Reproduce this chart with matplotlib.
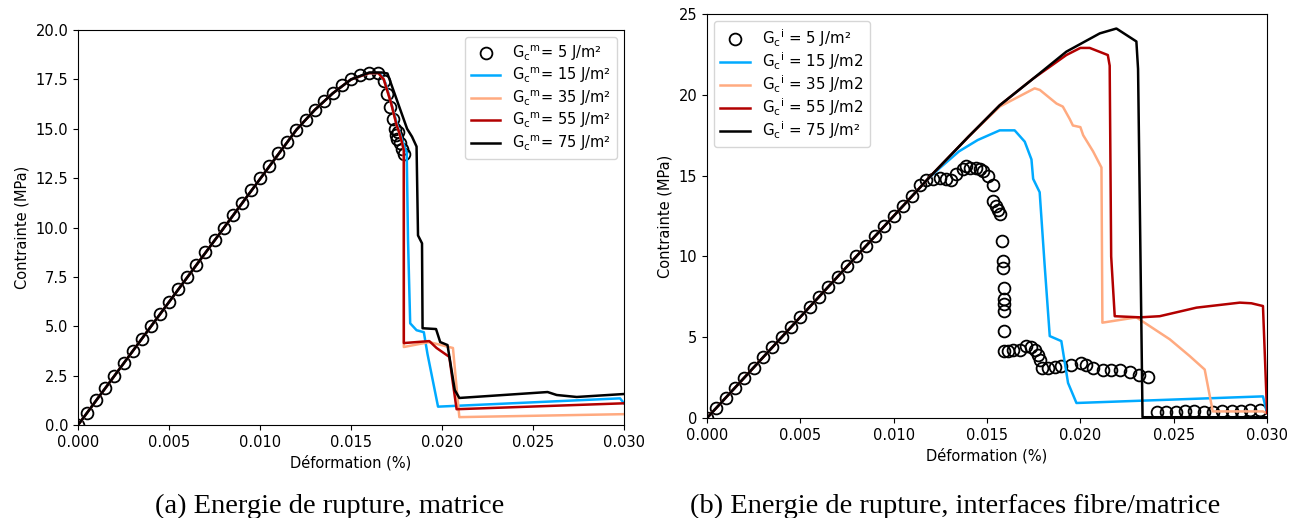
import numpy as np
import matplotlib
matplotlib.use('Agg')
import matplotlib.pyplot as plt

# ---------------- (a) matrice ----------------
a_circ_x = [0.0000, 0.0005, 0.0010, 0.0015, 0.0020, 0.0025, 0.0030, 0.0035, 0.0040, 0.0045,
            0.0050, 0.0055, 0.0060, 0.0065, 0.0070, 0.0075, 0.0080, 0.0085, 0.0090, 0.0095,
            0.0100, 0.0105, 0.0110, 0.0115, 0.0120, 0.0125, 0.0130, 0.0135, 0.0140, 0.0145,
            0.0150, 0.0155, 0.0160, 0.0165, 0.0168, 0.0170, 0.01715, 0.0173, 0.0174, 0.01745,
            0.01755, 0.0176, 0.0177, 0.0178, 0.0179]
a_circ_y = [0.0, 0.62, 1.25, 1.88, 2.5, 3.12, 3.75, 4.38, 5.0, 5.62,
            6.25, 6.88, 7.5, 8.12, 8.75, 9.38, 10.0, 10.62, 11.25, 11.88,
            12.5, 13.12, 13.75, 14.35, 14.95, 15.45, 15.95, 16.4, 16.8, 17.2,
            17.5, 17.72, 17.82, 17.82, 17.4, 16.75, 16.1, 15.5, 15.0, 14.7,
            14.5, 14.85, 14.3, 14.0, 13.7]

a15_x = [0.0, 0.0120, 0.0130, 0.0140, 0.0150, 0.0160, 0.0166, 0.0169, 0.0173, 0.0176, 0.0179,
         0.01806, 0.01813, 0.01825, 0.0186, 0.0190, 0.0192, 0.01978, 0.02978, 0.0300]
a15_y = [0.0, 14.95, 15.95, 16.8, 17.5, 17.82, 17.82, 17.3, 16.0, 15.0, 14.2,
         13.8, 9.4, 5.15, 4.8, 4.7, 3.6, 0.93, 1.35, 1.1]
a35_x = [0.0, 0.0120, 0.0130, 0.0140, 0.0150, 0.0160, 0.0165, 0.0168, 0.0172, 0.0175, 0.01765,
         0.0178, 0.0179, 0.0179, 0.0193, 0.0206, 0.02095, 0.0300]
a35_y = [0.0, 14.95, 15.95, 16.8, 17.5, 17.82, 17.82, 17.5, 16.3, 15.2, 14.8,
         14.3, 13.9, 3.95, 4.2, 3.9, 0.4, 0.55]
a55_x = [0.0, 0.0120, 0.0130, 0.0140, 0.0150, 0.0160, 0.0165, 0.0168, 0.0172, 0.0175, 0.01765,
         0.0178, 0.0179, 0.0179, 0.0193, 0.0197, 0.0204, 0.0206, 0.0208, 0.0300]
a55_y = [0.0, 14.95, 15.95, 16.8, 17.5, 17.82, 17.82, 17.5, 16.3, 15.2, 14.8,
         14.3, 13.9, 4.15, 4.25, 3.9, 3.45, 2.1, 0.8, 1.1]
a75_x = [0.0, 0.0120, 0.0130, 0.0140, 0.0150, 0.0160, 0.0167, 0.0170, 0.01808, 0.01835, 0.0186,
         0.01868, 0.0189, 0.01893, 0.01967, 0.0199, 0.0203, 0.0207, 0.02095, 0.0258, 0.0263,
         0.0274, 0.0300]
a75_y = [0.0, 14.95, 15.95, 16.8, 17.5, 17.85, 17.85, 17.8, 15.0, 14.6, 14.1,
         9.6, 9.2, 4.9, 4.86, 4.2, 4.05, 1.77, 1.37, 1.67, 1.52,
         1.42, 1.57]

# ---------------- (b) interfaces ----------------
b_circ_x = [0.0000, 0.0005, 0.0010, 0.0015, 0.0020, 0.0025, 0.0030, 0.0035, 0.0040, 0.0045,
            0.0050, 0.0055, 0.0060, 0.0065, 0.0070, 0.0075, 0.0080, 0.0085, 0.0090, 0.0095,
            0.0100, 0.0105, 0.0110, 0.0114, 0.01175, 0.0121, 0.01246, 0.01282, 0.01309, 0.01336,
            0.01371, 0.0139, 0.01407, 0.01443, 0.01461, 0.01479, 0.01505, 0.01532, 0.01532, 0.01547,
            0.01559, 0.01572, 0.01582, 0.01586, 0.01586, 0.0159, 0.0159, 0.0159, 0.0159, 0.0159,
            0.0159, 0.01613, 0.0164, 0.01675, 0.01711, 0.01738, 0.01755, 0.01773, 0.01786, 0.01797,
            0.01827, 0.01863, 0.01898, 0.01952, 0.02006, 0.02032, 0.02068, 0.02121, 0.02166, 0.02211,
            0.02264, 0.02314, 0.02362,
            0.0241, 0.0246, 0.0251, 0.0256, 0.0261, 0.0266, 0.0271, 0.0276, 0.0281, 0.0286,
            0.0291, 0.0296]
b_circ_y = [0.0, 0.62, 1.25, 1.88, 2.5, 3.12, 3.75, 4.38, 5.0, 5.62,
            6.25, 6.88, 7.5, 8.12, 8.75, 9.38, 10.0, 10.62, 11.25, 11.88,
            12.5, 13.12, 13.75, 14.4, 14.7, 14.8, 14.86, 14.8, 14.7, 15.1,
            15.4, 15.6, 15.5, 15.5, 15.4, 15.3, 15.0, 14.4, 13.45, 13.1,
            12.9, 12.6, 10.97, 9.73, 9.3, 8.07, 7.35, 7.04, 6.62, 5.38,
            4.14, 4.14, 4.24, 4.24, 4.45, 4.41, 4.24, 3.93, 3.62, 3.1,
            3.1, 3.17, 3.2, 3.31, 3.42, 3.31, 3.1, 3.0, 3.0, 3.0,
            2.83, 2.69, 2.55,
            0.37, 0.37, 0.37, 0.42, 0.42, 0.4, 0.4, 0.45, 0.45, 0.45,
            0.5, 0.48]

b15_x = [0.0, 0.0118, 0.0125, 0.0135, 0.0145, 0.01568, 0.01648, 0.01702, 0.01738, 0.01747,
         0.01782, 0.01809, 0.01836, 0.01898, 0.01934, 0.01979, 0.02978, 0.0300]
b15_y = [0.0, 14.75, 15.5, 16.5, 17.2, 17.8, 17.8, 17.1, 16.0, 14.8,
         13.97, 9.4, 5.07, 4.76, 2.17, 0.93, 1.34, 0.3]
b35_x = [0.0, 0.0120, 0.0140, 0.01568, 0.01755, 0.01783, 0.01872, 0.01906, 0.01943, 0.0196,
         0.0200, 0.02015, 0.02068, 0.02113, 0.02118, 0.0230, 0.02479, 0.02586, 0.02666, 0.02709,
         0.02977, 0.0300]
b35_y = [0.0, 15.0, 17.4, 19.27, 20.4, 20.3, 19.46, 19.27, 18.5, 18.1,
         18.0, 17.5, 16.5, 15.5, 5.9, 6.23, 4.87, 3.83, 3.0, 0.41,
         0.41, 0.3]
b55_x = [0.0, 0.0120, 0.0140, 0.01568, 0.01747, 0.01925, 0.0200, 0.0205, 0.02147, 0.02157,
         0.02165, 0.02184, 0.0232, 0.02425, 0.02622, 0.02854, 0.02916, 0.02978, 0.0300]
b55_y = [0.0, 15.0, 17.4, 19.35, 21.0, 22.46, 22.9, 22.9, 22.46, 21.8,
         10.0, 6.3, 6.23, 6.3, 6.83, 7.14, 7.1, 6.93, 0.3]
b75_x = [0.0, 0.0120, 0.0140, 0.01568, 0.01747, 0.01925, 0.02104, 0.02193, 0.0230, 0.02309,
         0.02333, 0.0300]
b75_y = [0.0, 15.0, 17.4, 19.35, 21.0, 22.67, 23.8, 24.1, 23.3, 21.6,
         0.05, 0.05]

c15 = '#00aaff'
c35 = '#ffaa80'
c55 = '#b20000'
c75 = 'black'

fig = plt.figure(figsize=(12.92, 5.18), dpi=100)
ax1 = fig.add_axes([0.0604, 0.1795, 0.4226, 0.7625])
ax2 = fig.add_axes([0.5472, 0.193, 0.4335, 0.780])

# (a)
ax1.plot(a_circ_x, a_circ_y, 'o', mfc='none', mec='black', ms=8.5, mew=1.3,
         label='G$_\\mathrm{c}$$^\\mathrm{m}$= 5 J/m²')
ax1.plot(a15_x, a15_y, color=c15, lw=1.8, label='G$_\\mathrm{c}$$^\\mathrm{m}$= 15 J/m²')
ax1.plot(a35_x, a35_y, color=c35, lw=1.8, label='G$_\\mathrm{c}$$^\\mathrm{m}$= 35 J/m²')
ax1.plot(a55_x, a55_y, color=c55, lw=1.8, label='G$_\\mathrm{c}$$^\\mathrm{m}$= 55 J/m²')
ax1.plot(a75_x, a75_y, color=c75, lw=1.8, label='G$_\\mathrm{c}$$^\\mathrm{m}$= 75 J/m²')
ax1.set_xlim(0, 0.03)
ax1.set_ylim(0, 20)
ax1.set_xticks([0, 0.005, 0.010, 0.015, 0.020, 0.025, 0.030])
ax1.set_xticklabels(['0.000', '0.005', '0.010', '0.015', '0.020', '0.025', '0.030'])
ax1.set_yticks(np.arange(0, 20.1, 2.5))
ax1.set_yticklabels(['0.0', '2.5', '5.0', '7.5', '10.0', '12.5', '15.0', '17.5', '20.0'])
ax1.set_xlabel('Déformation (%)', fontsize=10.5)
ax1.set_ylabel('Contrainte (MPa)', fontsize=10.5)
ax1.tick_params(labelsize=10.5)
ax1.legend(loc='upper right', fontsize=10.5, labelspacing=0.2)

# (b)
ax2.plot(b_circ_x, b_circ_y, 'o', mfc='none', mec='black', ms=8.5, mew=1.3,
         label='G$_\\mathrm{c}$$^\\mathrm{i}$ = 5 J/m²')
ax2.plot(b15_x, b15_y, color=c15, lw=1.8, label='G$_\\mathrm{c}$$^\\mathrm{i}$ = 15 J/m2')
ax2.plot(b35_x, b35_y, color=c35, lw=1.8, label='G$_\\mathrm{c}$$^\\mathrm{i}$ = 35 J/m2')
ax2.plot(b55_x, b55_y, color=c55, lw=1.8, label='G$_\\mathrm{c}$$^\\mathrm{i}$ = 55 J/m2')
ax2.plot(b75_x, b75_y, color=c75, lw=1.8, label='G$_\\mathrm{c}$$^\\mathrm{i}$ = 75 J/m²')
ax2.set_xlim(0, 0.03)
ax2.set_ylim(0, 25)
ax2.set_xticks([0, 0.005, 0.010, 0.015, 0.020, 0.025, 0.030])
ax2.set_xticklabels(['0.000', '0.005', '0.010', '0.015', '0.020', '0.025', '0.030'])
ax2.set_yticks([0, 5, 10, 15, 20, 25])
ax2.set_xlabel('Déformation (%)', fontsize=10.5)
ax2.set_ylabel('Contrainte (MPa)', fontsize=10.5)
ax2.tick_params(labelsize=10.5)
ax2.legend(loc='upper left', fontsize=10.8, labelspacing=0.08)

fig.text(0.2554, 0.0097, '(a) Energie de rupture, matrice', ha='center', va='baseline',
         family='Liberation Serif', fontsize=20.5)
fig.text(0.7392, 0.0097, '(b) Energie de rupture, interfaces fibre/matrice', ha='center',
         va='baseline', family='Liberation Serif', fontsize=20.5)

fig.savefig('out.png', dpi=100)
